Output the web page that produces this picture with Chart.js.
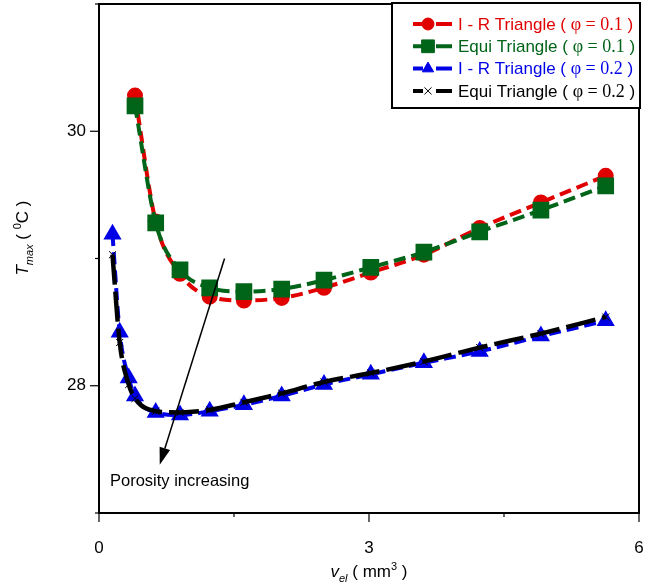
<!DOCTYPE html>
<html><head><meta charset="utf-8">
<script src="https://cdn.jsdelivr.net/npm/chart.js@4/dist/chart.umd.min.js"></script>
<style>html,body{margin:0;padding:0;background:#fff;}#wrap{width:663px;height:586px;}</style>
</head><body><div id="wrap"><canvas id="c" width="663" height="586"></canvas></div>
<script>
// ---- data ----
const vel01   = [0.40, 0.63, 0.90, 1.23, 1.61, 2.03, 2.50, 3.02, 3.61, 4.23, 4.91, 5.63];
const irTri01 = [30.28, 29.29, 28.88, 28.70, 28.67, 28.69, 28.77, 28.89, 29.03, 29.24, 29.44, 29.65];
const eqTri01 = [30.20, 29.28, 28.91, 28.77, 28.74, 28.76, 28.83, 28.93, 29.05, 29.21, 29.38, 29.57];
const vel02   = [0.15, 0.23, 0.33, 0.40, 0.63, 0.90, 1.23, 1.61, 2.03, 2.50, 3.02, 3.61, 4.23, 4.91, 5.63];
const irTri02 = [29.19, 28.42, 28.06, 27.92, 27.79, 27.77, 27.80, 27.85, 27.92, 28.01, 28.09, 28.18, 28.27, 28.39, 28.51];
const eqTri02 = [29.03, 28.34, 28.01, 27.90, 27.80, 27.79, 27.81, 27.87, 27.94, 28.03, 28.10, 28.19, 28.30, 28.41, 28.54];
const seriesNames = ['I - R Triangle', 'Equi Triangle', 'I - R Triangle', 'Equi Triangle'];
const seriesPhi   = ['0.1', '0.1', '0.2', '0.2'];
const xTicks      = [0, 3, 6];
const xMinorTicks = [1.5, 4.5];
const yTicks      = [28, 30];
const yMinorTicks = [27, 29, 31];
const arrowFrom = {x: 1.395, y: 29.0};
const arrowTo   = {x: 0.675, y: 27.38};
const noteText  = 'Porosity increasing';
const notePos   = {x: 0.122, y: 27.245};

const pts = (xs, ys) => xs.map((x, i) => ({x, y: ys[i]}));
const SANS = '"Liberation Sans", Arial, sans-serif';
const SERIF = '"Liberation Serif", "Times New Roman", serif';
const colors = ['#e00000', '#006419', '#0000e6', '#000000'];

const datasets = [
  {label: seriesNames[0], data: pts(vel01, irTri01), borderColor: colors[0], backgroundColor: colors[0],
   borderWidth: 4, borderDash: [12, 6], pointStyle: 'circle', pointRadius: 6, order: 3},
  {label: seriesNames[1], data: pts(vel01, eqTri01), borderColor: colors[1], backgroundColor: colors[1],
   borderWidth: 4, borderDash: [12, 6], pointStyle: 'rect', pointRadius: 9, order: 2},
  {label: seriesNames[2], data: pts(vel02, irTri02), borderColor: colors[2], backgroundColor: colors[2],
   borderWidth: 4, borderDash: [12, 6], pointStyle: 'triangle', pointRadius: 6.5, order: 1},
  {label: seriesNames[3], data: pts(vel02, eqTri02), borderColor: colors[3], backgroundColor: colors[3],
   borderWidth: 4.5, borderDash: [30, 7], pointStyle: 'crossRot', pointRadius: 5, pointBorderWidth: 1, order: 0}
];
datasets.forEach(d => { d.cubicInterpolationMode = 'monotone'; d.pointBorderColor = d.borderColor; d.pointHoverRadius = d.pointRadius; });

function drawRich(ctx, parts, x, y, align) {
  let w = 0;
  parts.forEach(p => { ctx.font = p[1]; w += ctx.measureText(p[0]).width; });
  let cx = align === 'center' ? x - w / 2 : x;
  parts.forEach(p => { ctx.font = p[1]; ctx.fillText(p[0], cx, y + (p[2] || 0)); cx += ctx.measureText(p[0]).width; });
}

const deco = {
  id: 'deco',
  afterDraw(chart) {
    const ctx = chart.ctx, a = chart.chartArea, xs = chart.scales.x, ys = chart.scales.y;
    ctx.save();
    ctx.strokeStyle = '#000'; ctx.fillStyle = '#000';
    // ticks
    ctx.lineWidth = 1.2;
    const xt = (v, len) => { const px = xs.getPixelForValue(v); ctx.beginPath(); ctx.moveTo(px, a.bottom); ctx.lineTo(px, a.bottom + len); ctx.stroke(); };
    const yt = (v, len) => { const py = ys.getPixelForValue(v); ctx.beginPath(); ctx.moveTo(a.left, py); ctx.lineTo(a.left - len, py); ctx.stroke(); };
    xTicks.forEach(v => xt(v, 9)); xMinorTicks.forEach(v => xt(v, 4));
    yTicks.forEach(v => yt(v, 9)); yMinorTicks.forEach(v => yt(v, 4));
    // frame
    ctx.lineWidth = 2;
    ctx.strokeRect(a.left, a.top, a.right - a.left, a.bottom - a.top);
    // arrow
    const x1 = xs.getPixelForValue(arrowFrom.x), y1 = ys.getPixelForValue(arrowFrom.y);
    const x2 = xs.getPixelForValue(arrowTo.x), y2 = ys.getPixelForValue(arrowTo.y);
    const ang = Math.atan2(y2 - y1, x2 - x1), hl = 17, hw = 5.5;
    const bx = x2 - hl * Math.cos(ang), by = y2 - hl * Math.sin(ang);
    ctx.lineWidth = 1.5;
    ctx.beginPath(); ctx.moveTo(x1, y1); ctx.lineTo(bx, by); ctx.stroke();
    ctx.beginPath(); ctx.moveTo(x2, y2);
    ctx.lineTo(bx + hw * Math.sin(ang), by - hw * Math.cos(ang));
    ctx.lineTo(bx - hw * Math.sin(ang), by + hw * Math.cos(ang));
    ctx.closePath(); ctx.fill();
    // note
    ctx.textBaseline = 'middle'; ctx.textAlign = 'left';
    ctx.font = '16.5px ' + SANS;
    ctx.fillText(noteText, xs.getPixelForValue(notePos.x), ys.getPixelForValue(notePos.y));
    // axis titles
    ctx.textBaseline = 'alphabetic';
    drawRich(ctx, [
      ['v', 'italic 17px ' + SANS, 0], ['el', 'italic 11px ' + SANS, 5],
      [' ( mm', '17px ' + SANS, 0], ['3', '11px ' + SANS, -7], [' )', '17px ' + SANS, 0]
    ], (a.left + a.right) / 2, 577, 'center');
    ctx.save();
    ctx.translate(28, 238);
    ctx.rotate(-Math.PI / 2);
    drawRich(ctx, [
      ['T', 'italic 17px ' + SANS, 0], ['max', 'italic 11px ' + SANS, 5],
      [' ( ', '17px ' + SANS, 0], ['0', '11px ' + SANS, -7], ['C )', '17px ' + SANS, 0]
    ], 0, 0, 'center');
    ctx.restore();
    // legend
    const L = 392, T = 3, R = 640, B = 108;
    ctx.fillStyle = '#fff'; ctx.fillRect(L, T, R - L, B - T);
    ctx.lineWidth = 2; ctx.strokeStyle = '#000'; ctx.strokeRect(L, T, R - L, B - T);
    chart.data.datasets.forEach((d, i) => {
      const ry = 24 + i * 22.3;
      ctx.strokeStyle = d.borderColor; ctx.fillStyle = d.borderColor; ctx.lineWidth = 4;
      ctx.beginPath(); ctx.moveTo(413, ry); ctx.lineTo(423, ry); ctx.moveTo(436, ry); ctx.lineTo(452, ry); ctx.stroke();
      ctx.lineWidth = d.pointBorderWidth || 1;
      Chart.helpers.drawPoint(ctx, {pointStyle: d.pointStyle, radius: d.pointRadius, borderWidth: d.pointBorderWidth || 1, rotation: 0}, 428, ry);
      ctx.textBaseline = 'middle';
      drawRich(ctx, [
        [seriesNames[i] + ' ( ', '17px ' + SANS, 0], ['\u03C6 = ' + seriesPhi[i], '18px ' + SERIF, 0], [' )', '17px ' + SANS, 0]
      ], 458, ry + 1, 'left');
    });
    ctx.restore();
  }
};

const zero = () => ({left: 0, top: 0, right: 0, bottom: 0});
const noPad = s => { s.paddingTop = 0; s.paddingBottom = 0; s.paddingLeft = 0; s.paddingRight = 0; s.getPadding = zero; };

new Chart(document.getElementById('c'), {
  type: 'line',
  data: {datasets},
  options: {
    responsive: false, animation: false, devicePixelRatio: 1,
    layout: {autoPadding: false, padding: {top: 4, right: 24, left: 0, bottom: 0}},
    plugins: {legend: {display: false}, title: {display: false}, tooltip: {enabled: false}},
    scales: {
      x: {type: 'linear', min: 0, max: 6,
        grid: {display: false, drawTicks: false, tickLength: 0}, border: {display: false},
        afterBuildTicks: s => { s.ticks = xTicks.map(v => ({value: v})); },
        afterFit: s => { s.height = 73; noPad(s); },
        ticks: {padding: 25, color: '#000', font: {family: SANS, size: 17},
          callback: v => String(v)}},
      y: {type: 'linear', min: 27, max: 31,
        grid: {display: false, drawTicks: false, tickLength: 0}, border: {display: false},
        afterBuildTicks: s => { s.ticks = yTicks.map(v => ({value: v})); },
        afterFit: s => { s.width = 99; noPad(s); },
        ticks: {padding: 13, color: '#000', font: {family: SANS, size: 17},
          callback: v => String(v)}}
    }
  },
  plugins: [deco]
});
</script></body></html>
